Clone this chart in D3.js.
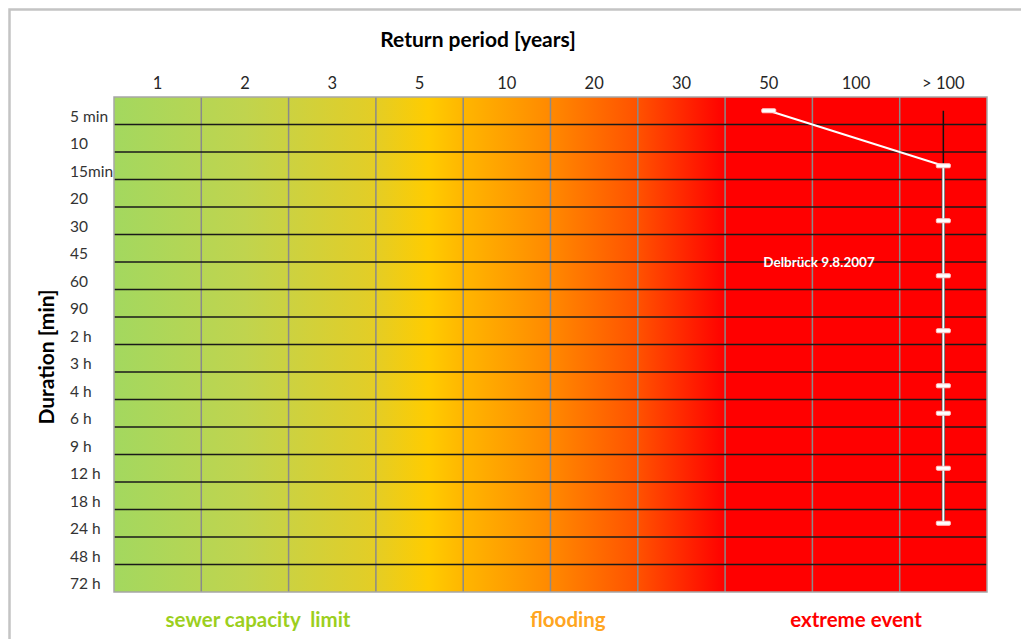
<!DOCTYPE html>
<html>
<head>
<meta charset="utf-8">
<script src="https://cdn.jsdelivr.net/npm/d3@7"></script>
<style>
  body { margin: 0; background: #fff; }
  text { font-family: Lato, "Open Sans", sans-serif; }
</style>
</head>
<body>
<div class="chart"></div>
<script>
//Data
var returnPeriods = ["1", "2", "3", "5", "10", "20", "30", "50", "100", "> 100"];
var durations = ["5 min", "10", "15min", "20", "30", "45", "60", "90", "2 h", "3 h",
                 "4 h", "6 h", "9 h", "12 h", "18 h", "24 h", "48 h", "72 h"];

// Delbrück 9.8.2007 event
var eventPeriods = ["50", "> 100", "> 100", "> 100", "> 100", "> 100", "> 100", "> 100", "> 100"];
var eventDurations = ["5 min", "15min", "30", "60", "2 h", "4 h", "6 h", "12 h", "24 h"];

var zoneLabels = ["sewer capacity  limit", "flooding", "extreme event"];
var zoneCenters = [1.65, 5.2, 8.5]; // in column units

//Config
var width = 1021,
    height = 639,
    plot = { left: 114, right: 987, top: 97, bottom: 592 };

var svg = d3.select(".chart")
  .append("svg")
  .attr("width", width)
  .attr("height", height);

// outer frame
svg.append("rect")
  .attr("x", 9.5).attr("y", 9.5)
  .attr("width", 1040).attr("height", 660)
  .style("fill", "none")
  .style("stroke", "#c4c4c4")
  .style("stroke-width", "2.5px");

var x = d3.scaleBand().domain(returnPeriods).range([plot.left, plot.right]);
var y = d3.scaleBand().domain(durations).range([plot.top, plot.bottom]);

// background gradient
var grad = svg.append("defs").append("linearGradient")
  .attr("id", "risk")
  .attr("x1", "0%").attr("x2", "100%").attr("y1", "0%").attr("y2", "0%");
[[0, "#a3d85f"], [0.15, "#c0d44e"], [0.30, "#e4cd25"], [0.36, "#ffcc00"],
 [0.40, "#ffb600"], [0.50, "#ff8900"], [0.60, "#ff5200"], [0.70, "#ff0000"], [1, "#ff0000"]]
  .forEach(function (s) {
    grad.append("stop").attr("offset", s[0]).attr("stop-color", s[1]);
  });

svg.append("rect")
  .attr("x", plot.left).attr("y", plot.top)
  .attr("width", plot.right - plot.left)
  .attr("height", plot.bottom - plot.top)
  .style("fill", "url(#risk)");

// vertical grid
svg.append("g").selectAll("line")
  .data(returnPeriods.slice(1))
  .enter().append("line")
  .attr("x1", function (d) { return x(d); })
  .attr("x2", function (d) { return x(d); })
  .attr("y1", plot.top).attr("y2", plot.bottom)
  .style("stroke", "#8a8a8a")
  .style("stroke-width", "1.5px");

// horizontal grid
svg.append("g").selectAll("line")
  .data(durations.slice(1))
  .enter().append("line")
  .attr("x1", plot.left).attr("x2", plot.right)
  .attr("y1", function (d) { return y(d); })
  .attr("y2", function (d) { return y(d); })
  .style("stroke", "#1a1a1a")
  .style("stroke-width", "1.6px");

// plot border
svg.append("rect")
  .attr("x", plot.left).attr("y", plot.top)
  .attr("width", plot.right - plot.left)
  .attr("height", plot.bottom - plot.top)
  .style("fill", "none")
  .style("stroke", "#a6a6a6")
  .style("stroke-width", "1.5px");

// top axis
var xAxis = svg.append("g")
  .attr("transform", "translate(0," + (plot.top - 8) + ")")
  .call(d3.axisTop(x).tickSize(0).tickPadding(0));
xAxis.select(".domain").remove();
xAxis.selectAll("text")
  .style("font-family", "Lato, sans-serif")
  .style("font-size", "16.5px")
  .style("fill", "#262626");

// left labels
svg.append("g").selectAll("text")
  .data(durations)
  .enter().append("text")
  .attr("x", 70)
  .attr("y", function (d) { return y(d) + y.bandwidth() / 2 + 5; })
  .attr("dominant-baseline", "central")
  .style("font-size", "15.5px")
  .style("fill", "#333")
  .text(function (d) { return d; });

// titles
svg.append("text")
  .attr("x", 478).attr("y", 38)
  .attr("text-anchor", "middle")
  .attr("dominant-baseline", "central")
  .style("font-size", "21px")
  .style("font-weight", "bold")
  .text("Return period [years]");

svg.append("text")
  .attr("transform", "translate(45,357) rotate(-90)")
  .attr("text-anchor", "middle")
  .attr("dominant-baseline", "central")
  .style("font-size", "21px")
  .style("font-weight", "bold")
  .text("Duration [min]");

// zone labels
var zoneColors = ["#9ccf1e", "#ffa520", "#ff0000"];
svg.append("g").selectAll("text")
  .data(zoneLabels)
  .enter().append("text")
  .attr("x", function (d, i) { return plot.left + zoneCenters[i] * x.bandwidth(); })
  .attr("y", 619)
  .attr("text-anchor", "middle")
  .attr("dominant-baseline", "central")
  .style("font-size", "20.5px")
  .style("font-weight", "bold")
  .style("fill", function (d, i) { return zoneColors[i]; })
  .style("white-space", "pre")
  .text(function (d) { return d; });

// event series
var pts = eventPeriods.map(function (p, i) {
  return [x(p) + x.bandwidth() / 2, y(eventDurations[i]) + y.bandwidth() / 2];
});

var last = pts[pts.length - 1];
var lineX = x("> 100") + x.bandwidth() / 2;
var topY = y(eventDurations[0]) + y.bandwidth() / 2;

svg.append("line")
  .attr("x1", lineX).attr("x2", lineX)
  .attr("y1", topY).attr("y2", last[1])
  .style("stroke", "#111")
  .style("stroke-width", "1.5px");
svg.append("line")
  .attr("x1", lineX).attr("x2", lineX)
  .attr("y1", pts[1][1]).attr("y2", last[1])
  .style("stroke", "#444")
  .style("stroke-width", "3.5px");

svg.append("path")
  .attr("d", d3.line()(pts))
  .style("fill", "none")
  .style("stroke", "#fff")
  .style("stroke-width", "2px");

svg.append("g").selectAll("rect")
  .data(pts)
  .enter().append("rect")
  .attr("x", function (d) { return d[0] - 7; })
  .attr("y", function (d) { return d[1] - 2; })
  .attr("width", 14).attr("height", 4)
  .attr("rx", 1)
  .style("fill", "#fff")
  .style("stroke", "#ffc8c8")
  .style("stroke-width", "1px");

svg.append("text")
  .attr("x", 819).attr("y", 262)
  .attr("text-anchor", "middle")
  .attr("dominant-baseline", "central")
  .style("font-size", "13.5px")
  .style("font-weight", "bold")
  .style("fill", "#fff")
  .text("Delbrück 9.8.2007");
</script>
</body>
</html>
